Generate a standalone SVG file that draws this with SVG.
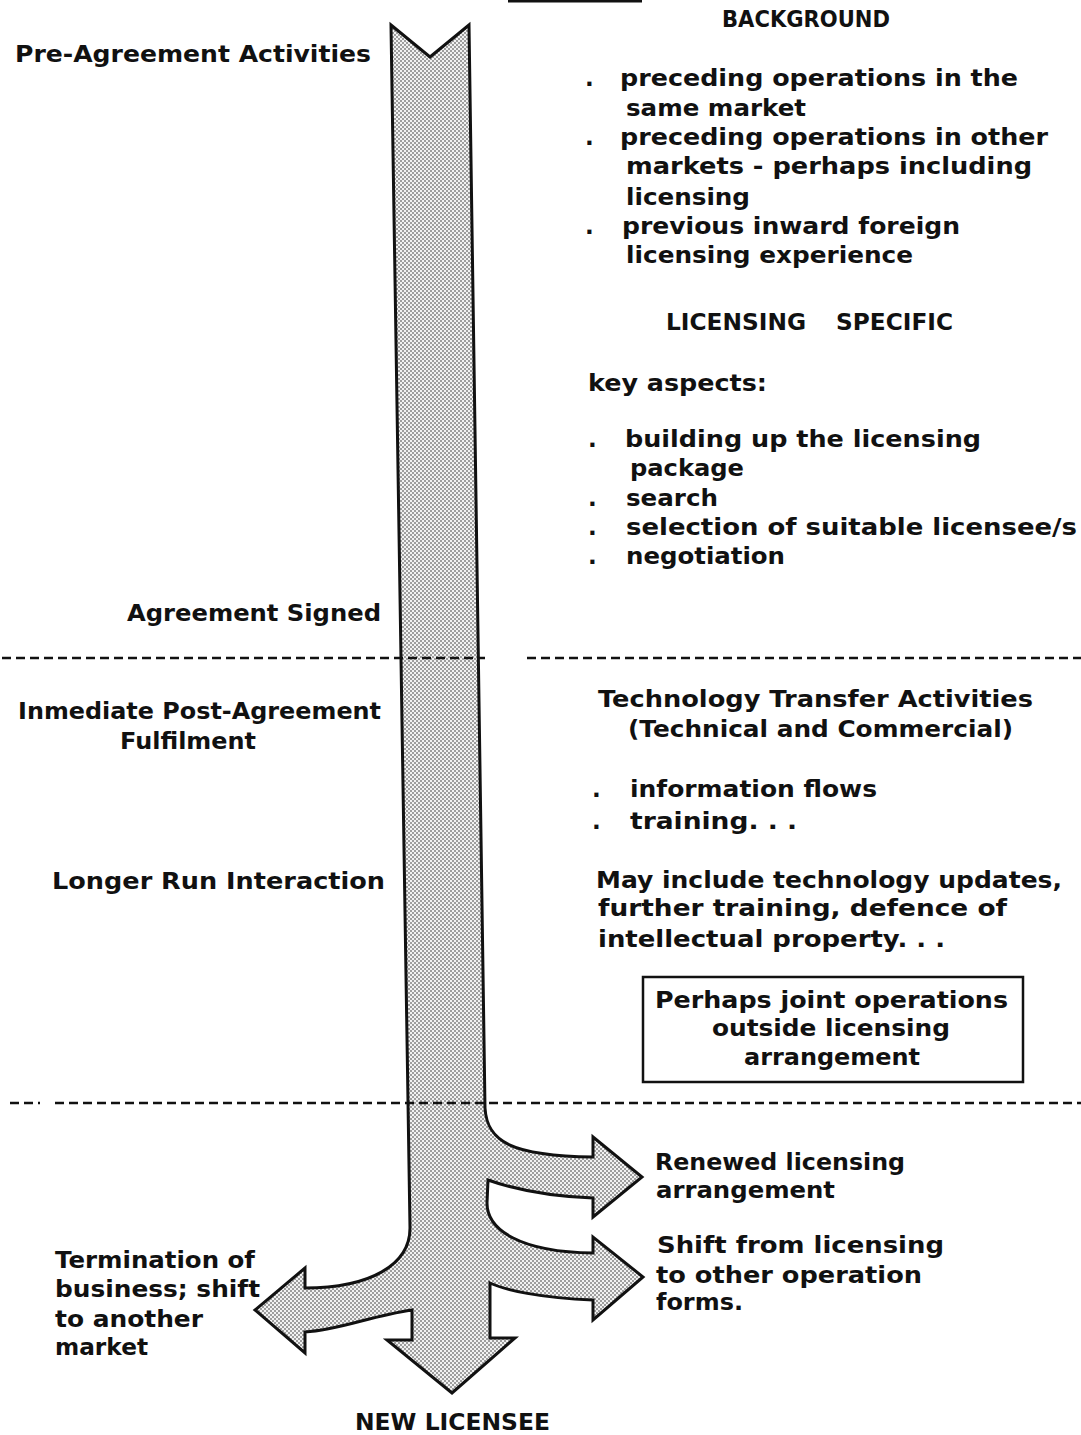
<svg xmlns="http://www.w3.org/2000/svg" width="1081" height="1435" viewBox="0 0 1081 1435">
<style>
.t{font-family:"DejaVu Sans","Liberation Sans",sans-serif;font-weight:bold;font-size:23px;fill:#111}
.dash{stroke:#111;stroke-width:2.5;stroke-dasharray:9 5;fill:none}
</style>
<defs>
<pattern id="dots" width="4" height="4" patternUnits="userSpaceOnUse">
<rect width="4" height="4" fill="#f2f2f2"/>
<circle cx="1" cy="1" r="0.8" fill="#333"/>
<circle cx="3" cy="3" r="0.8" fill="#333"/>
</pattern>
</defs>
<rect width="1081" height="1435" fill="#fff"/>
<line x1="508" y1="1" x2="642" y2="1" stroke="#111" stroke-width="3"/>
<g id="arrow">
<path d="M391,25 L430,57 L469,25 L485,1108 C487,1142 512,1156 593,1157 L593,1137 L642,1177 L593,1217 L593,1198 C540,1196 505,1186 488,1180 L487,1203 C487,1230 520,1252 593,1253 L593,1237 L643,1277 L593,1320 L593,1300 C540,1298 505,1290 490,1283 L490,1338 L515,1338 L452,1393 L387,1340 L412,1340 L412,1310 C370,1316 340,1330 305,1332 L305,1353 L255,1310 L305,1268 L305,1288 C370,1288 410,1265 410,1228 Z" fill="url(#dots)" stroke="#111" stroke-width="3" stroke-linejoin="miter"/>
</g>
<g id="dividers">
<line class="dash" x1="2" y1="658" x2="485" y2="658"/>
<line class="dash" x1="527" y1="658" x2="1081" y2="658"/>
<line class="dash" x1="10" y1="1103" x2="40" y2="1103"/>
<line class="dash" x1="55" y1="1103" x2="1081" y2="1103"/>
</g>
<g id="stages">
<text class="t" x="15" y="62" textLength="356" lengthAdjust="spacingAndGlyphs">Pre-Agreement Activities</text>
<text class="t" x="127" y="621" textLength="254" lengthAdjust="spacingAndGlyphs">Agreement Signed</text>
<text class="t" x="18" y="719" textLength="363" lengthAdjust="spacingAndGlyphs">Inmediate Post-Agreement</text>
<text class="t" x="120" y="749" textLength="136" lengthAdjust="spacingAndGlyphs">Fulfilment</text>
<text class="t" x="52" y="889" textLength="333" lengthAdjust="spacingAndGlyphs">Longer Run Interaction</text>
</g>
<g id="termination">
<text class="t" x="55" y="1268" textLength="200" lengthAdjust="spacingAndGlyphs">Termination of</text>
<text class="t" x="55" y="1297" textLength="205" lengthAdjust="spacingAndGlyphs">business; shift</text>
<text class="t" x="55" y="1327" textLength="148" lengthAdjust="spacingAndGlyphs">to another</text>
<text class="t" x="55" y="1355" textLength="93" lengthAdjust="spacingAndGlyphs">market</text>
</g>
<g id="new-licensee">
<text class="t" x="355" y="1430" textLength="195" lengthAdjust="spacingAndGlyphs">NEW LICENSEE</text>
</g>
<g id="background">
<text class="t" x="722" y="27" textLength="168" lengthAdjust="spacingAndGlyphs">BACKGROUND</text>
<text class="t" x="585" y="86">.</text>
<text class="t" x="620" y="86" textLength="398" lengthAdjust="spacingAndGlyphs">preceding operations in the</text>
<text class="t" x="626" y="116" textLength="180" lengthAdjust="spacingAndGlyphs">same market</text>
<text class="t" x="585" y="145">.</text>
<text class="t" x="620" y="145" textLength="428" lengthAdjust="spacingAndGlyphs">preceding operations in other</text>
<text class="t" x="626" y="174" textLength="406" lengthAdjust="spacingAndGlyphs">markets - perhaps including</text>
<text class="t" x="626" y="205" textLength="124" lengthAdjust="spacingAndGlyphs">licensing</text>
<text class="t" x="585" y="234">.</text>
<text class="t" x="622" y="234" textLength="338" lengthAdjust="spacingAndGlyphs">previous inward foreign</text>
<text class="t" x="626" y="263" textLength="287" lengthAdjust="spacingAndGlyphs">licensing experience</text>
</g>
<g id="licensing-specific">
<text class="t" x="666" y="330" textLength="140" lengthAdjust="spacingAndGlyphs">LICENSING</text>
<text class="t" x="836" y="330" textLength="117" lengthAdjust="spacingAndGlyphs">SPECIFIC</text>
<text class="t" x="588" y="391" textLength="179" lengthAdjust="spacingAndGlyphs">key aspects:</text>
<text class="t" x="588" y="447">.</text>
<text class="t" x="625" y="447" textLength="356" lengthAdjust="spacingAndGlyphs">building up the licensing</text>
<text class="t" x="630" y="476" textLength="114" lengthAdjust="spacingAndGlyphs">package</text>
<text class="t" x="588" y="506">.</text>
<text class="t" x="626" y="506" textLength="92" lengthAdjust="spacingAndGlyphs">search</text>
<text class="t" x="588" y="535">.</text>
<text class="t" x="626" y="535" textLength="451" lengthAdjust="spacingAndGlyphs">selection of suitable licensee/s</text>
<text class="t" x="588" y="564">.</text>
<text class="t" x="626" y="564" textLength="159" lengthAdjust="spacingAndGlyphs">negotiation</text>
</g>
<g id="technology-transfer">
<text class="t" x="598" y="707" textLength="435" lengthAdjust="spacingAndGlyphs">Technology Transfer Activities</text>
<text class="t" x="628" y="737" textLength="385" lengthAdjust="spacingAndGlyphs">(Technical and Commercial)</text>
<text class="t" x="592" y="797">.</text>
<text class="t" x="630" y="797" textLength="247" lengthAdjust="spacingAndGlyphs">information flows</text>
<text class="t" x="592" y="829">.</text>
<text class="t" x="630" y="829" textLength="167" lengthAdjust="spacingAndGlyphs">training. . .</text>
</g>
<g id="longer-run">
<text class="t" x="596" y="888" textLength="466" lengthAdjust="spacingAndGlyphs">May include technology updates,</text>
<text class="t" x="598" y="916" textLength="409" lengthAdjust="spacingAndGlyphs">further training, defence of</text>
<text class="t" x="598" y="947" textLength="347" lengthAdjust="spacingAndGlyphs">intellectual property. . .</text>
</g>
<g id="joint-operations-box">
<rect x="643" y="977" width="380" height="105" fill="none" stroke="#111" stroke-width="2.5"/>
<text class="t" x="655" y="1008" textLength="353" lengthAdjust="spacingAndGlyphs">Perhaps joint operations</text>
<text class="t" x="712" y="1036" textLength="238" lengthAdjust="spacingAndGlyphs">outside licensing</text>
<text class="t" x="744" y="1065" textLength="176" lengthAdjust="spacingAndGlyphs">arrangement</text>
</g>
<g id="renewed">
<text class="t" x="655" y="1170" textLength="250" lengthAdjust="spacingAndGlyphs">Renewed licensing</text>
<text class="t" x="656" y="1198" textLength="179" lengthAdjust="spacingAndGlyphs">arrangement</text>
</g>
<g id="shift">
<text class="t" x="657" y="1253" textLength="287" lengthAdjust="spacingAndGlyphs">Shift from licensing</text>
<text class="t" x="656" y="1283" textLength="266" lengthAdjust="spacingAndGlyphs">to other operation</text>
<text class="t" x="656" y="1310" textLength="87" lengthAdjust="spacingAndGlyphs">forms.</text>
</g>
</svg>
